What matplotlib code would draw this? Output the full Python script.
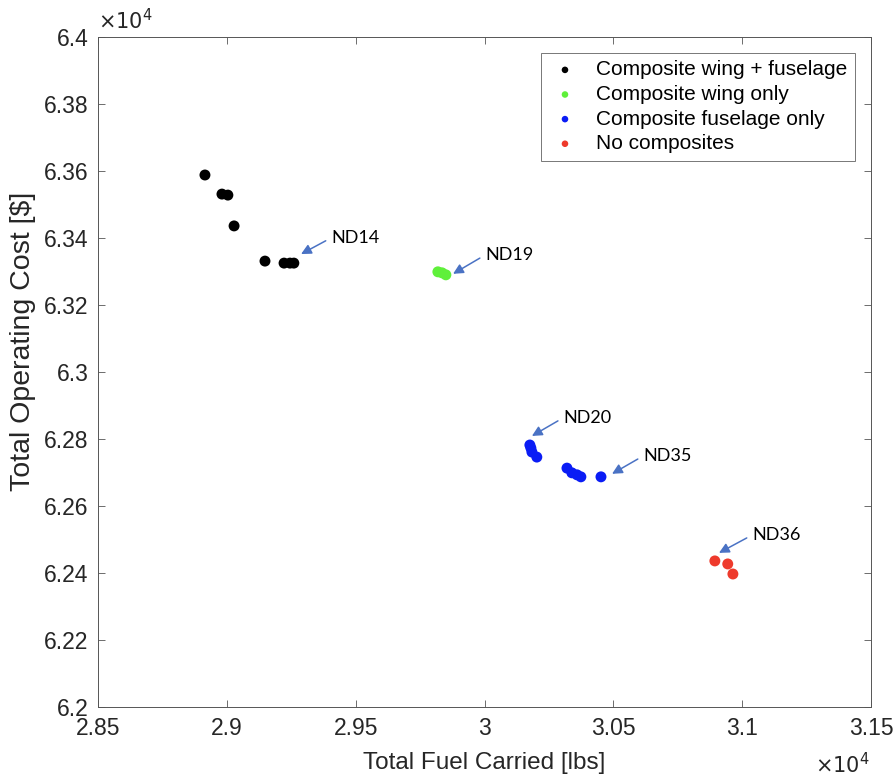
import matplotlib
matplotlib.use("Agg")
import matplotlib.pyplot as plt
from matplotlib.ticker import FuncFormatter

plt.rcParams['font.family'] = ['Liberation Sans', 'DejaVu Sans']

# fuel carried [lbs] and operating cost [$] for each design group
wing_fus_fuel = [28915, 28981, 29004, 29028, 29148, 29222, 29245, 29260]
wing_fus_cost = [63588, 63531, 63528, 63436, 63331, 63325, 63325, 63325]

wing_fuel = [29819, 29835, 29850]
wing_cost = [63299, 63296, 63290]

fus_fuel = [30176, 30180, 30184, 30203, 30320, 30339, 30359, 30374, 30452]
fus_cost = [62782, 62773, 62761, 62746, 62713, 62699, 62693, 62687, 62687]

none_fuel = [30894, 30944, 30964]
none_cost = [62436, 62427, 62397]

labels = ["Composite wing + fuselage", "Composite wing only",
          "Composite fuselage only", "No composites"]
colors = ["black", "#5ff03a", "#0a1cf5", "#ee3a2c"]

# annotations: name, arrow head (x,y), text / arrow tail (x,y)
notes = [
    ("ND14", (29288, 63352), (29404, 63400)),
    ("ND19", (29878, 63293), (30002, 63349)),
    ("ND20", (30184, 62809), (30305, 62863)),
    ("ND35", (30495, 62696), (30615, 62749)),
    ("ND36", (30910, 62460), (31038, 62513)),
]

fig = plt.figure(figsize=(8.96, 7.8), dpi=100)
ax = fig.add_axes([0.1094, 0.0936, 0.8627, 0.8590])

groups = [(wing_fus_fuel, wing_fus_cost), (wing_fuel, wing_cost),
          (fus_fuel, fus_cost), (none_fuel, none_cost)]
for (fx, fy), lab, c in zip(groups, labels, colors):
    ax.scatter(fx, fy, s=62, color=c, label=lab, edgecolors='none', zorder=3)

for name, pt, txt in notes:
    ax.annotate(name, xy=pt, xytext=txt, fontsize=13,
                family=['Lato', 'DejaVu Sans'], va='center', ha='left',
                arrowprops=dict(arrowstyle='-|>', color='#4a72c4', lw=1.1,
                                mutation_scale=15, shrinkA=2, shrinkB=0,
                                relpos=(0.0, 0.5)))

ax.set_xlim(28500, 31500)
ax.set_ylim(62000, 64000)
ax.set_xticks([28500 + 500 * i for i in range(7)])
ax.set_yticks([62000 + 200 * i for i in range(11)])
fmt = FuncFormatter(lambda v, p: f"{v / 1e4:g}")
ax.xaxis.set_major_formatter(fmt)
ax.yaxis.set_major_formatter(fmt)
ax.tick_params(direction='in', top=True, right=True, length=5, width=0.6,
               labelsize=16.5, labelcolor='#262626', color='#555555', pad=7)
for s in ax.spines.values():
    s.set_color('#555555')
    s.set_linewidth(0.7)

ax.set_xlabel("Total Fuel Carried [lbs]", fontsize=17.5, color='#262626', labelpad=9)
ax.set_ylabel("Total Operating Cost [$]", fontsize=20.5, color='#262626')
ax.yaxis.set_label_coords(-0.080, 0.546)

ax.text(0.0, 1.005, r"$\times10^4$", transform=ax.transAxes, fontsize=15,
        ha='left', va='bottom', color='#262626', math_fontfamily='dejavusans')
fig.text(0.971, 0.003, r"$\times10^4$", fontsize=15,
         ha='right', va='bottom', color='#262626', math_fontfamily='dejavusans')

leg = ax.legend(loc='upper right', fontsize=15, frameon=True, fancybox=False,
                handletextpad=0.7, borderpad=0.35, labelspacing=0.27,
                handlelength=1.6, markerscale=0.6, borderaxespad=0,
                bbox_to_anchor=(0.979, 0.976))
leg.get_frame().set_edgecolor('#555555')
leg.get_frame().set_linewidth(0.7)

fig.savefig("out.png", dpi=100)
